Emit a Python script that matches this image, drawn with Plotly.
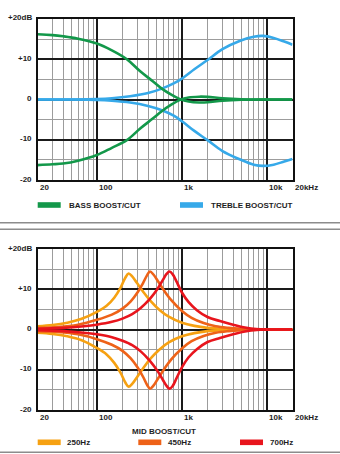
import math
import plotly.graph_objects as go

# ---------------- data ----------------
# Bass / treble shelving response (frequency in Hz, level in dB)
BASS_F = [20, 30, 40, 60, 100, 150, 225, 323, 450, 580, 750, 950, 1200, 1600, 2000, 3000, 5000, 10000, 20000]
BASS_BOOST = [16.2, 16.0, 15.7, 15.1, 13.9, 12.2, 10.0, 7.0, 4.6, 2.7, 1.2, 0.1, -0.5, -0.75, -0.7, -0.3, -0.05, 0, 0]
BASS_CUT = [-16.3, -16.1, -15.9, -15.2, -13.8, -12.0, -10.1, -7.2, -4.8, -2.9, -1.3, -0.1, 0.5, 0.7, 0.65, 0.3, 0.05, 0, 0]

TREBLE_F = [20, 50, 100, 150, 246, 400, 581, 800, 1000, 1400, 2000, 3000, 4850, 7000, 9000, 12000, 16000, 20000]
TREBLE_BOOST = [0, 0, 0.1, 0.3, 0.8, 1.6, 2.7, 4.0, 5.2, 7.5, 9.8, 12.5, 14.6, 15.6, 15.8, 15.3, 14.4, 13.6]
TREBLE_CUT = [0, 0, -0.1, -0.3, -0.75, -1.6, -2.65, -4.0, -5.4, -7.8, -10.1, -12.8, -14.9, -16.2, -16.5, -16.2, -15.4, -14.8]

# Mid peaking response for three centre frequencies
MID250_F = [20, 30, 45, 65, 100, 130, 160, 190, 215, 236, 260, 295, 350, 424, 550, 700, 1000, 1400, 2000, 3000, 5000, 20000]
MID250_BOOST = [0.8, 1.1, 1.7, 2.6, 4.4, 5.9, 7.9, 10.4, 12.8, 13.9, 13.2, 11.6, 9.4, 7.2, 4.8, 3.2, 1.7, 0.9, 0.4, 0.15, 0.05, 0]
MID250_CUT = [-0.8, -1.1, -1.7, -2.6, -4.6, -6.2, -8.3, -10.8, -13.1, -14.2, -13.5, -11.9, -9.6, -7.3, -4.9, -3.2, -1.7, -0.9, -0.4, -0.15, -0.05, 0]

MID450_F = [20, 35, 60, 100, 150, 200, 250, 300, 350, 390, 421, 465, 530, 620, 750, 1000, 1300, 1800, 2500, 3500, 5000, 8000, 20000]
MID450_BOOST = [0.4, 0.6, 1.2, 2.4, 3.7, 5.2, 7.0, 9.2, 11.6, 13.5, 14.4, 13.6, 11.8, 9.6, 7.3, 4.6, 2.9, 1.6, 0.8, 0.4, 0.15, 0.02, 0]
MID450_CUT = [-0.4, -0.6, -1.2, -2.4, -3.8, -5.3, -7.2, -9.4, -11.8, -13.8, -14.7, -13.9, -12.0, -9.8, -7.4, -4.7, -2.9, -1.6, -0.8, -0.4, -0.15, -0.02, 0]

MID700_F = [20, 40, 70, 100, 150, 200, 260, 330, 420, 520, 600, 660, 715, 780, 860, 1000, 1200, 1500, 2000, 2800, 4000, 5500, 7500, 20000]
MID700_BOOST = [0.2, 0.4, 0.8, 1.2, 1.9, 2.7, 3.8, 5.4, 7.6, 10.2, 12.4, 13.8, 14.4, 13.7, 12.0, 9.2, 6.8, 4.8, 3.1, 2.1, 1.2, 0.5, 0.1, 0]
MID700_CUT = [-0.2, -0.4, -0.8, -1.2, -1.9, -2.8, -3.9, -5.5, -7.8, -10.4, -12.6, -14.0, -14.7, -14.0, -12.2, -9.4, -6.9, -4.9, -3.1, -2.1, -1.2, -0.5, -0.1, 0]

# Axis labelling
X_TICKS = [20, 100, 1000, 10000, 20000]
X_LABELS = ["20", "100", "1k", "10k", "20kHz"]
Y_TICKS = [20, 10, 0, -10, -20]
Y_LABELS = ["+20dB", "+10", "0", "-10", "-20"]
X_MAJOR = [100, 1000, 10000]
X_MINOR = [m * d for d in (10, 100, 1000) for m in range(2, 10)]
Y_MAJOR = [-10, 0, 10]
Y_MINOR = [-15, -5, 5, 15]

TOP_LEGEND = ["BASS BOOST/CUT", "TREBLE BOOST/CUT"]
MID_TITLE = "MID BOOST/CUT"
MID_LEGEND = ["250Hz", "450Hz", "700Hz"]

# ---------------- styling ----------------
W, H = 340, 454
GREEN = "#13984a"
BLUE = "#36a9e9"
ORANGE = "#f6a112"
ORANGE_RED = "#ee6218"
RED = "#e8151d"
FONT = dict(family="Liberation Sans, Arial, sans-serif", size=8, color="#1e1e1e", weight="bold")


def px_x(p):
    return p / W


def px_y(p):
    return 1 - p / H


X0, X1 = 37.5, 292.5
TOP = (19, 180)
BOT = (249, 410)

fig = go.Figure()


def add_curve(f, v, color, xa, ya):
    fig.add_trace(go.Scatter(
        x=f, y=v, mode="lines", xaxis=xa, yaxis=ya, hoverinfo="skip",
        line=dict(color=color, width=2.6, shape="spline", smoothing=1.0),
        showlegend=False,
    ))


# upper panel
add_curve(TREBLE_F, TREBLE_BOOST, BLUE, "x", "y")
add_curve(TREBLE_F, TREBLE_CUT, BLUE, "x", "y")
add_curve(BASS_F, BASS_BOOST, GREEN, "x", "y")
add_curve(BASS_F, BASS_CUT, GREEN, "x", "y")

# lower panel
add_curve(MID250_F, MID250_BOOST, ORANGE, "x2", "y2")
add_curve(MID250_F, MID250_CUT, ORANGE, "x2", "y2")
add_curve(MID450_F, MID450_BOOST, ORANGE_RED, "x2", "y2")
add_curve(MID450_F, MID450_CUT, ORANGE_RED, "x2", "y2")
add_curve(MID700_F, MID700_BOOST, RED, "x2", "y2")
add_curve(MID700_F, MID700_CUT, RED, "x2", "y2")


def xaxis_cfg(anchor):
    return dict(
        type="log", range=[math.log10(20), math.log10(20000)],
        domain=[px_x(X0), px_x(X1)], anchor=anchor,
        tickvals=X_MAJOR, showticklabels=False, ticks="",
        showgrid=True, gridcolor="#1a1a1a", gridwidth=1.6,
        minor=dict(tickvals=X_MINOR, showgrid=True, gridcolor="#9c9c9c", gridwidth=1.1, ticks=""),
        showline=True, mirror=True, linecolor="#111111", linewidth=2,
        zeroline=False, fixedrange=True,
    )


def yaxis_cfg(anchor, span):
    return dict(
        range=[-20, 20], domain=[px_y(span[1]), px_y(span[0])], anchor=anchor,
        tickvals=Y_MAJOR, showticklabels=False, ticks="",
        showgrid=True, gridcolor="#1a1a1a", gridwidth=1.6,
        minor=dict(tickvals=Y_MINOR, showgrid=True, gridcolor="#9c9c9c", gridwidth=1.1, ticks=""),
        showline=True, mirror=True, linecolor="#111111", linewidth=2,
        zeroline=False, fixedrange=True,
    )


annotations = []
shapes = []

for xa, ya, span in (("x", "y", TOP), ("x2", "y2", BOT)):
    # frequency labels, left-aligned at their gridline
    for v, t in zip(X_TICKS, X_LABELS):
        annotations.append(dict(
            x=math.log10(v), xref=xa, y=px_y(span[1] + 7), yref="paper",
            text=t, showarrow=False, xanchor="left", yanchor="middle",
            xshift=0, font=FONT,
        ))
    # level labels, right-aligned left of the frame
    for v, t in zip(Y_TICKS, Y_LABELS):
        annotations.append(dict(
            x=px_x(33.5), xref="paper", y=v, yref=ya,
            text=t, showarrow=False, xanchor="right", yanchor="middle",
            yshift=1, font=FONT,
        ))

# upper legend
TOP_LEG_Y = 205
for (x_sw, x_tx), label, color in zip(((37.7, 66.5), (180.0, 208.8)), TOP_LEGEND, (GREEN, BLUE)):
    shapes.append(dict(type="rect", xref="paper", yref="paper",
                       x0=px_x(x_sw), x1=px_x(x_sw + 23), y0=px_y(TOP_LEG_Y - 2.8), y1=px_y(TOP_LEG_Y + 2.8),
                       fillcolor=color, line=dict(width=0)))
    annotations.append(dict(x=px_x(x_tx), xref="paper", y=px_y(TOP_LEG_Y), yref="paper",
                            text=label, showarrow=False, xanchor="left", yanchor="middle", font=FONT))

# lower legend
annotations.append(dict(x=px_x(164.2), xref="paper", y=px_y(431.7), yref="paper",
                        text=MID_TITLE, showarrow=False, xanchor="center", yanchor="middle", font=FONT))
MID_LEG_Y = 442.3
for (x_sw, x_tx), label, color in zip(((37.7, 65.0), (138.3, 165.7), (240.0, 268.3)), MID_LEGEND,
                                      (ORANGE, ORANGE_RED, RED)):
    shapes.append(dict(type="rect", xref="paper", yref="paper",
                       x0=px_x(x_sw), x1=px_x(x_sw + 23), y0=px_y(MID_LEG_Y - 2.8), y1=px_y(MID_LEG_Y + 2.8),
                       fillcolor=color, line=dict(width=0)))
    annotations.append(dict(x=px_x(x_tx), xref="paper", y=px_y(MID_LEG_Y), yref="paper",
                            text=label, showarrow=False, xanchor="left", yanchor="middle", font=FONT))

# panel separators
for yy in (222.8, 229.2, 452.2):
    shapes.append(dict(type="line", xref="paper", yref="paper", x0=0, x1=1,
                       y0=px_y(yy), y1=px_y(yy), line=dict(color="#8c8c8c", width=1.6)))

fig.update_layout(
    width=W, height=H,
    margin=dict(l=0, r=0, t=0, b=0),
    paper_bgcolor="white", plot_bgcolor="white",
    xaxis=xaxis_cfg("y"), yaxis=yaxis_cfg("x", TOP),
    xaxis2=xaxis_cfg("y2"), yaxis2=yaxis_cfg("x2", BOT),
    annotations=annotations, shapes=shapes,
    showlegend=False, font=FONT,
)

fig.write_html("out.html", config=dict(displayModeBar=False))
